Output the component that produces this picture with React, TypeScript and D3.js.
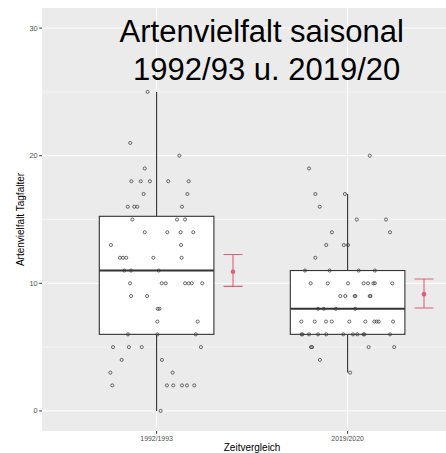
import React from "react";
import * as d3 from "d3";

const categories = ["1992/1993", "2019/2020"];
const yTicks = [0, 10, 20, 30];
const yMinorTicks = [5, 15, 25];

// boxplot stats per category
const boxLower = [0, 3];
const boxQ1 = [6, 6];
const boxMedian = [11, 8];
const boxQ3 = [15.25, 11];
const boxUpper = [25, 17];

// mean with error bars
const meanValue = [10.9, 9.15];
const meanLow = [9.76, 8.07];
const meanHigh = [12.26, 10.34];

// jittered observations (value, horizontal jitter in category units)
const values1992 = [
  25, 21, 20, 19, 18, 18, 18, 18, 18, 17, 17, 16, 16, 16, 16, 15, 15, 15, 14, 14, 14, 14,
  13, 13, 12, 12, 12, 12, 12, 11, 11, 11, 10, 10, 10, 10, 10, 10, 10, 9, 9, 8, 8, 7, 7,
  6, 6, 6, 5, 5, 5, 5, 4, 4, 3, 3, 2, 2, 2, 2, 2, 2, 0,
];
const jitter1992 = [
  -0.047, -0.138, 0.119, -0.062, -0.132, -0.083, -0.035, 0.061, 0.168, -0.068, 0.161,
  -0.151, -0.117, -0.101, 0.133, -0.127, 0.107, 0.149, -0.062, 0.056, 0.126, 0.192,
  -0.239, 0.128, -0.192, -0.176, -0.159, -0.017, 0.131, -0.169, -0.134, 0.011,
  -0.139, 0.027, 0.048, 0.149, 0.168, 0.184, 0.239, -0.134, -0.05, 0.006, 0.015,
  0.004, 0.215, -0.15, 0.004, 0.205, -0.228, -0.145, -0.078, 0.232, -0.183, 0.028,
  -0.242, 0.084, -0.232, 0.054, 0.087, 0.133, 0.159, 0.197, 0.021,
];
const values2019 = [
  20, 19, 17, 17, 16, 15, 15, 14, 14, 13, 13, 13, 12, 11, 11, 11, 11,
  10, 10, 10, 10, 10, 10, 10, 10, 9, 9, 9, 9, 9, 9, 8, 8, 8, 8,
  7, 7, 7, 7, 7, 7, 7, 7, 7, 7, 6, 6, 6, 6, 6, 6, 6, 6, 6, 6, 6,
  5, 5, 5, 5, 4, 3,
];
const jitter2019 = [
  0.116, -0.202, -0.169, -0.014, -0.146, 0.048, 0.201, -0.082, 0.222, -0.112, -0.02, 0.002,
  -0.169, -0.223, -0.094, 0.058, 0.143,
  -0.193, -0.104, 0.002, 0.084, 0.107, 0.135, 0.143, 0.234,
  -0.038, -0.012, 0.037, 0.041, 0.116, 0.12,
  -0.155, -0.125, -0.062, 0.04,
  -0.242, -0.172, -0.113, -0.083, 0.009, 0.093, 0.14, 0.152, 0.163, 0.238,
  -0.241, -0.236, -0.202, -0.155, -0.112, -0.023, 0.028, 0.051, 0.083, 0.088, 0.222,
  -0.192, -0.186, 0.11, 0.244, -0.145, 0.013,
];
const groupValues = [values1992, values2019];
const groupJitter = [jitter1992, jitter2019];

const titleLines = ["Artenvielfalt saisonal", "1992/93 u. 2019/20"];
const xTitle = "Zeitvergleich";
const yTitle = "Artenvielfalt Tagfalter";

const W = 446;
const H = 453;
const panelLeft = 42;
const panelRight = 462.2;
const panelTop = 8;
const panelBottom = 431;

export default function App() {
  const x = d3.scaleLinear().domain([0.4, 2.6]).range([panelLeft, panelRight]);
  const y = d3.scaleLinear().domain([-1.575, 31.575]).range([panelBottom, panelTop]);
  const boxHalf = 0.3;
  const meanOffset = 0.4;
  const capHalf = 0.05;
  const red = "#DE5F7C";
  const font = "'Liberation Sans', Arial, sans-serif";

  return (
    <svg
      width={W}
      height={H}
      style={{ position: "absolute", left: 0, top: 0, display: "block", background: "#fff" }}
      fontFamily={font}
    >
      <defs>
        <clipPath id="panelClip">
          <rect x={panelLeft} y={panelTop} width={panelRight - panelLeft} height={panelBottom - panelTop} />
        </clipPath>
      </defs>
      <rect x={panelLeft} y={panelTop} width={panelRight - panelLeft} height={panelBottom - panelTop} fill="#EBEBEB" />
      <g clipPath="url(#panelClip)">
        {yMinorTicks.map((t) => (
          <line key={"mn" + t} x1={panelLeft} x2={panelRight} y1={y(t)} y2={y(t)} stroke="#fff" strokeWidth={0.5} />
        ))}
        {yTicks.map((t) => (
          <line key={"mj" + t} x1={panelLeft} x2={panelRight} y1={y(t)} y2={y(t)} stroke="#fff" strokeWidth={1} />
        ))}
        {categories.map((c, i) => (
          <line key={"vx" + c} x1={x(i + 1)} x2={x(i + 1)} y1={panelTop} y2={panelBottom} stroke="#fff" strokeWidth={1} />
        ))}

        {categories.map((c, i) => {
          const cx = x(i + 1);
          const l = x(i + 1 - boxHalf);
          const r = x(i + 1 + boxHalf);
          return (
            <g key={"box" + c} stroke="#333333" fill="none">
              <line x1={cx} x2={cx} y1={y(boxQ3[i])} y2={y(boxUpper[i])} strokeWidth={1.1} />
              <line x1={cx} x2={cx} y1={y(boxQ1[i])} y2={y(boxLower[i])} strokeWidth={1.1} />
              <rect x={l} y={y(boxQ3[i])} width={r - l} height={y(boxQ1[i]) - y(boxQ3[i])} fill="#fff" strokeWidth={1.1} />
              <line x1={l} x2={r} y1={y(boxMedian[i])} y2={y(boxMedian[i])} strokeWidth={2} />
            </g>
          );
        })}

        {categories.map((c, i) => (
          <g key={"pts" + c} fill="none" stroke="#3a3a3a" strokeWidth={0.75}>
            {groupValues[i].map((v, k) => (
              <circle key={k} cx={x(i + 1 + groupJitter[i][k])} cy={y(v)} r={1.55} />
            ))}
          </g>
        ))}

        {categories.map((c, i) => {
          const cx = x(i + 1 + meanOffset);
          return (
            <g key={"mean" + c} stroke={red} strokeWidth={1.1}>
              <line x1={cx} x2={cx} y1={y(meanLow[i])} y2={y(meanHigh[i])} />
              <line x1={x(i + 1 + meanOffset - capHalf)} x2={x(i + 1 + meanOffset + capHalf)} y1={y(meanHigh[i])} y2={y(meanHigh[i])} />
              <line x1={x(i + 1 + meanOffset - capHalf)} x2={x(i + 1 + meanOffset + capHalf)} y1={y(meanLow[i])} y2={y(meanLow[i])} />
              <circle cx={cx} cy={y(meanValue[i])} r={2.3} fill={red} stroke="none" />
            </g>
          );
        })}

        <text x={261.7} y={41.5} fontSize={31} fill="#000" textAnchor="middle">
          {titleLines[0]}
        </text>
        <text x={266.7} y={80} fontSize={31} fill="#000" textAnchor="middle">
          {titleLines[1]}
        </text>
      </g>

      {yTicks.map((t) => (
        <g key={"yt" + t}>
          <line x1={panelLeft - 2.8} x2={panelLeft} y1={y(t)} y2={y(t)} stroke="#333" strokeWidth={1} />
          <text x={panelLeft - 4.5} y={y(t)} dy="0.35em" fontSize={7.3} fill="#4D4D4D" textAnchor="end">
            {t}
          </text>
        </g>
      ))}
      {categories.map((c, i) => (
        <g key={"xt" + c}>
          <line x1={x(i + 1)} x2={x(i + 1)} y1={panelBottom} y2={panelBottom + 2.8} stroke="#333" strokeWidth={1} />
          <text x={x(i + 1)} y={441} fontSize={6.9} fill="#4D4D4D" textAnchor="middle">
            {c}
          </text>
        </g>
      ))}
      <text x={(panelLeft + panelRight) / 2} y={451} fontSize={10} fill="#000" textAnchor="middle">
        {xTitle}
      </text>
      <text
        transform={`translate(24, ${(panelTop + panelBottom) / 2}) rotate(-90)`}
        fontSize={10}
        fill="#000"
        textAnchor="middle"
      >
        {yTitle}
      </text>
    </svg>
  );
}
